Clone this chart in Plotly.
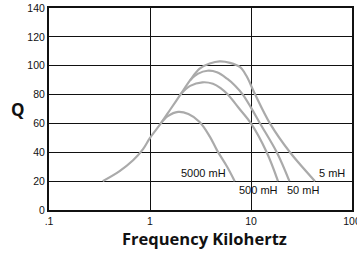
import plotly.graph_objects as go

# Frequency (kHz) and Q values for each inductance curve
f_5mH = [0.34, 0.5, 0.68, 0.85, 1.0, 1.28, 1.6, 2.0, 2.5, 3.1, 3.9, 4.9, 6.2, 7.8, 9.0, 11, 15.4, 24.3, 43]
q_5mH = [20, 27, 34.5, 42, 50, 60, 70, 80, 90, 98, 101.5, 103, 102, 99, 93, 80, 60, 40, 20]

f_50mH = [2.5, 3.0, 3.7, 4.6, 5.8, 7.0, 8.3, 10, 12.3, 18, 24]
q_50mH = [90, 94.5, 96.5, 95.5, 91, 86, 80, 71, 60, 40, 20]

f_500mH = [2.0, 2.5, 3.3, 4.2, 5.0, 5.9, 7.5, 10, 14.3, 18.5]
q_500mH = [80, 86, 88.5, 87.5, 84.5, 80, 71, 60, 40, 20]

f_5000mH = [1.28, 1.5, 1.9, 2.4, 3.1, 3.9, 4.6, 5.8, 6.9]
q_5000mH = [60, 65, 68, 66.5, 61, 51, 41.5, 30, 20]

x_ticks = [0.1, 1, 10, 100]
x_ticktext = [".1", "1", "10", "100"]
y_ticks = [0, 20, 40, 60, 80, 100, 120, 140]

series = [
    ("5 mH", f_5mH, q_5mH),
    ("50 mH", f_50mH, q_50mH),
    ("500 mH", f_500mH, q_500mH),
    ("5000 mH", f_5000mH, q_5000mH),
]

fig = go.Figure()
for name, f, q in series:
    fig.add_trace(go.Scatter(
        x=f, y=q, mode="lines", name=name,
        line=dict(color="#aaaaaa", width=2.2, shape="spline", smoothing=1.0),
        showlegend=False, hoverinfo="skip", cliponaxis=False,
    ))

L, R, T, B = 49, 352, 8, 210
def px_to_logx(px):
    return -1 + 3 * (px - L) / (R - L)
def px_to_y(py):
    return 140 * (B - py) / (B - T)

label_font = dict(family="Liberation Sans, Arial, sans-serif", size=11, color="#111111")
labels = [
    ("5000 mH", 203, 173),
    ("500 mH", 258, 190),
    ("50 mH", 303, 190),
    ("5 mH", 332, 173),
]
for text, px, py in labels:
    fig.add_annotation(x=px_to_logx(px), y=px_to_y(py), text=text, showarrow=False,
                       font=label_font, xanchor="center", yanchor="middle")

fig.add_annotation(x=(17.5 - L) / (R - L), y=(B - 109) / (B - T), xref="x domain", yref="y domain",
                   text="<b>Q</b>", showarrow=False, xanchor="center", yanchor="middle",
                   font=dict(family="Open Sans, sans-serif", size=17, color="#111111"))

fig.add_annotation(x=(204 - L) / (R - L), y=(B - 238) / (B - T), xref="x domain", yref="y domain",
                   text="<b>Frequency Kilohertz</b>", showarrow=False, xanchor="center", yanchor="middle",
                   font=dict(family="Open Sans, sans-serif", size=16.5, color="#111111"))

fig.update_layout(
    width=357, height=253,
    margin=dict(l=49, r=5, t=8, b=43),
    paper_bgcolor="white", plot_bgcolor="white",
    font=dict(family="Liberation Sans, Arial, sans-serif", size=10.5, color="#111111"),
    xaxis=dict(
        type="log", range=[-1, 2], automargin=False,
        tickvals=x_ticks, ticktext=x_ticktext, ticklabeloverflow="allow",
        showgrid=True, gridcolor="#111111", gridwidth=1,
        showline=True, linecolor="#111111", linewidth=2, mirror=True,
        ticks="", zeroline=False,
    ),
    yaxis=dict(
        range=[0, 140], tickvals=y_ticks, automargin=False, ticklabeloverflow="allow",
        showgrid=True, gridcolor="#111111", gridwidth=1,
        showline=True, linecolor="#111111", linewidth=2, mirror=True,
        ticks="", zeroline=False,
    ),
)

fig.write_html("out.html", config={"displayModeBar": False, "staticPlot": True},
               post_script="document.body.style.margin='0';document.body.style.overflow='hidden';")
